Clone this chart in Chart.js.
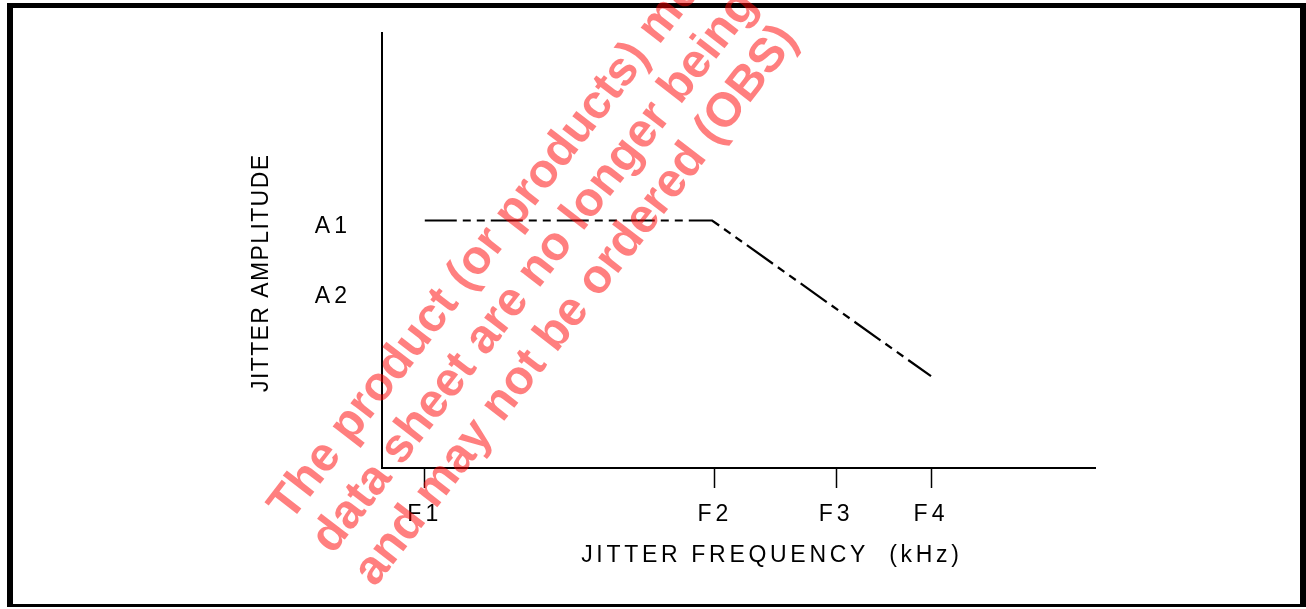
<!DOCTYPE html>
<html>
<head>
<meta charset="utf-8">
<script src="https://cdn.jsdelivr.net/npm/chart.js@4/dist/chart.umd.min.js"></script>
<style>
html,body{margin:0;padding:0;background:#fff;overflow:hidden}
canvas{display:block}
</style>
</head>
<body>
<canvas id="c" width="1306" height="609"></canvas>
<script>
// ---- data ----
const freqLabels = ['F1', 'F2', 'F3', 'F4'];
const freqTicks = [6.0, 46.7, 63.7, 77.0];
const ampLabels = ['A1', 'A2'];
const ampTicks = [55.4, 39.3];
const curveFreq = [6.0, 46.3, 77.0];
const curveAmp = [56.9, 56.9, 21.1];
const xTitle = 'JITTER FREQUENCY  (kHz)';
const yTitle = 'JITTER AMPLITUDE';
const watermarkLines = [
  'The product (or products) mentioned in this',
  'data sheet are no longer being manufactured',
  'and may not be ordered (OBS)'
];

const FONT = '"Liberation Sans", Arial, Helvetica, sans-serif';

function patch(scale, method, spacing, dx, dy) {
  const orig = scale[method].bind(scale);
  scale[method] = function (...args) {
    const ctx = this.ctx;
    ctx.save();
    ctx.letterSpacing = spacing;
    ctx.translate(dx, dy);
    orig(...args);
    ctx.restore();
  };
}

const decorPlugin = {
  id: 'decor',
  beforeDraw(chart) {
    const ctx = chart.ctx;
    if (!chart.$patched) {
      chart.$patched = true;
      patch(chart.scales.x, 'drawLabels', '4px', 0, 0);
      patch(chart.scales.y, 'drawLabels', '4px', 0, 0);
      patch(chart.scales.x, 'drawTitle', '3.7px', 33.4, 0);
      patch(chart.scales.y, 'drawTitle', '1.4px', 0, 22.3);
    }
    ctx.save();
    ctx.fillStyle = '#fff';
    ctx.fillRect(0, 0, chart.width, chart.height);
    ctx.fillStyle = '#000';
    ctx.fillRect(7, 3, 1299, 5);
    ctx.fillRect(7, 3, 6, 604);
    ctx.fillRect(1300, 3, 6, 604);
    ctx.fillRect(7, 604, 1299, 3);
    ctx.restore();
  },
  afterDraw(chart) {
    const ctx = chart.ctx;
    ctx.save();
    ctx.letterSpacing = '0px';
    ctx.rotate(-52.3 * Math.PI / 180);
    ctx.font = 'bold 48px ' + FONT;
    ctx.fillStyle = 'rgba(255,0,0,0.5)';
    ctx.textAlign = 'left';
    ctx.textBaseline = 'alphabetic';
    watermarkLines.forEach((t, i) => ctx.fillText(t, -236, 549.3 + i * 53.5));
    ctx.restore();
  }
};

new Chart(document.getElementById('c'), {
  type: 'line',
  data: {
    datasets: [{
      data: curveFreq.map((f, i) => ({x: f, y: curveAmp[i]})),
      borderColor: '#000',
      borderWidth: 2.2,
      borderDash: [32, 6, 8, 6, 8, 6],
      pointRadius: 0,
      tension: 0,
      fill: false
    }]
  },
  options: {
    responsive: false,
    animation: false,
    events: [],
    layout: {padding: {left: 0, top: 33, right: 211, bottom: 0}},
    plugins: {legend: {display: false}, tooltip: {enabled: false}},
    scales: {
      x: {
        type: 'linear',
        min: 0, max: 100,
        afterFit: s => { s.height = 141; s.paddingLeft = 0; s.paddingRight = 0; },
        afterBuildTicks: s => { s.ticks = freqTicks.map(v => ({value: v})); },
        grid: {display: true, drawOnChartArea: false, drawTicks: true, tickLength: 20, color: '#000', tickWidth: 1.5},
        border: {display: true, color: '#000', width: 2},
        ticks: {
          autoSkip: false, maxRotation: 0, padding: 13, color: '#000',
          font: {family: FONT, size: 23},
          callback: (v, i) => freqLabels[i]
        },
        title: {display: true, text: xTitle, color: '#000', font: {family: FONT, size: 23}, padding: {top: 0, bottom: 40}}
      },
      y: {
        type: 'linear',
        min: 0, max: 100,
        afterFit: s => { s.width = 382; s.paddingTop = 0; s.paddingBottom = 0; },
        afterBuildTicks: s => { s.ticks = ampTicks.map(v => ({value: v})); },
        grid: {display: false},
        border: {display: true, color: '#000', width: 2},
        ticks: {
          padding: 23, color: '#000',
          font: {family: FONT, size: 23},
          callback: (v, i) => ampLabels[i]
        },
        title: {display: true, text: yTitle, color: '#000', font: {family: FONT, size: 23}, padding: {top: 248, bottom: 0}}
      }
    }
  },
  plugins: [decorPlugin]
});
</script>
</body>
</html>
